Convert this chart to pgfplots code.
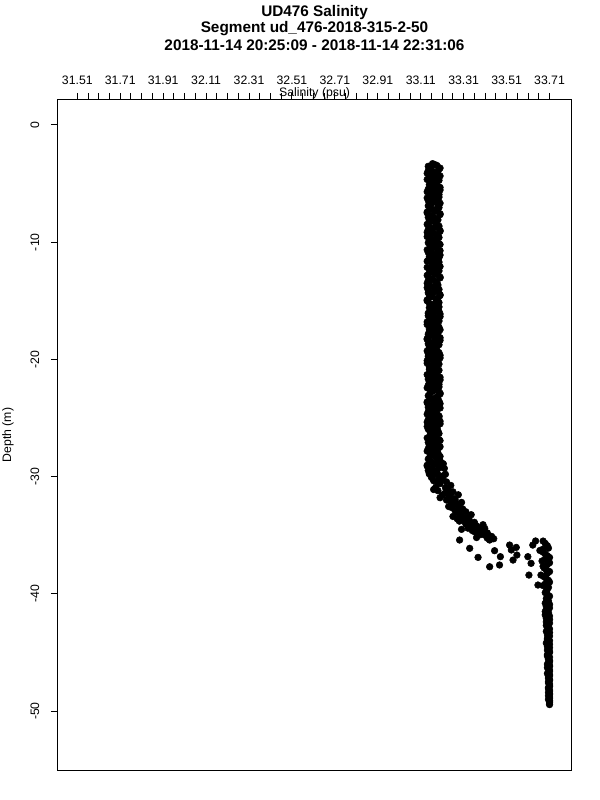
\documentclass[border=0pt]{standalone}
\usepackage{fontspec}
\setmainfont{Liberation Sans}
\usepackage{pgfplots}
\pgfplotsset{compat=1.18}
\begin{document}
\begin{tikzpicture}[x=1pt,y=1pt]
\path[use as bounding box] (-43.5,-22.5) rectangle (406.5,577.5);
\begin{axis}[
  at={(0,0)}, anchor=south west,
  scale only axis, width=384.75pt, height=502.5pt,
  xmin=31.42, xmax=33.81, ymin=-55.03, ymax=2.13,
  axis line style={line width=0.75pt},
  every tick/.append style={line width=0.75pt, black},
  major tick length=5.25pt, minor tick length=5.25pt,
  xtick={31.51,31.71,31.91,32.11,32.31,32.51,32.71,32.91,33.11,33.31,33.51,33.71},
  xticklabels={31.51,31.71,31.91,32.11,32.31,32.51,32.71,32.91,33.11,33.31,33.51,33.71},
  minor x tick num=3,
  xtick pos=right, xticklabel pos=right,
  xtick align=inside,
  every x tick/.append style={yshift=5.25pt},
  xticklabel style={font=\fontsize{9.2}{10}\selectfont, anchor=center, yshift=14.9pt},
  ytick={-50,-40,-30,-20,-10,0},
  yticklabels={-50,-40,-30,-20,-10,0},
  ytick pos=left, ytick align=inside,
  every y tick/.append style={xshift=-5.25pt},
  yticklabel style={font=\fontsize{9.2}{10}\selectfont, xshift=-17.25pt, rotate=90, anchor=center},
  /pgf/number format/assume math mode=true,
  clip=false,
]
\addplot[only marks, mark=*, mark size=2.5pt, black] coordinates {
(33.165,-3.30) (33.185,-3.45) (33.150,-3.60) (33.195,-3.75) (33.145,-3.90) (33.180,-4.05) (33.155,-4.20) (33.200,-4.35) (33.170,-4.50) (33.140,-4.65) (33.185,-4.80) (33.160,-4.95)
(33.150,-5.10) (33.190,-5.25) (33.165,-5.40) (33.200,-5.55) (33.140,-5.70) (33.180,-5.85) (33.155,-6.00) (33.195,-6.15) (33.170,-6.30) (33.145,-6.45) (33.185,-6.60) (33.160,-6.75)
(33.145,-6.90) (33.195,-7.05) (33.160,-7.20) (33.185,-7.35) (33.140,-7.50) (33.200,-7.65) (33.150,-7.80) (33.175,-7.95) (33.190,-8.10) (33.155,-8.25) (33.180,-8.40) (33.145,-8.55)
(33.190,-8.70) (33.160,-8.85) (33.200,-9.00) (33.140,-9.15) (33.175,-9.30) (33.150,-9.45) (33.195,-9.60) (33.165,-9.75) (33.185,-9.90) (33.145,-10.05) (33.200,-10.20) (33.155,-10.35)
(33.180,-10.50) (33.140,-10.65) (33.190,-10.80) (33.160,-10.95) (33.200,-11.10) (33.150,-11.25) (33.175,-11.40) (33.145,-11.55) (33.195,-11.70) (33.165,-11.85) (33.185,-12.00) (33.140,-12.15)
(33.170,-12.30) (33.195,-12.45) (33.150,-12.60) (33.185,-12.75) (33.145,-12.90) (33.200,-13.05) (33.160,-13.20) (33.180,-13.35) (33.140,-13.50) (33.190,-13.65) (33.155,-13.80) (33.175,-13.95)
(33.145,-14.10) (33.190,-14.25) (33.165,-14.40) (33.200,-14.55) (33.150,-14.70) (33.180,-14.85) (33.140,-15.00) (33.195,-15.15) (33.160,-15.30) (33.185,-15.45) (33.150,-15.60) (33.175,-15.75)
(33.195,-15.90) (33.145,-16.05) (33.170,-16.20) (33.200,-16.35) (33.155,-16.50) (33.185,-16.65) (33.140,-16.80) (33.180,-16.95) (33.160,-17.10) (33.195,-17.25) (33.150,-17.40) (33.175,-17.55)
(33.190,-17.70) (33.145,-17.85) (33.165,-18.00) (33.200,-18.15) (33.140,-18.30) (33.180,-18.45) (33.155,-18.60) (33.195,-18.75) (33.170,-18.90) (33.150,-19.05) (33.185,-19.20) (33.160,-19.35)
(33.145,-19.50) (33.200,-19.65) (33.160,-19.80) (33.185,-19.95) (33.140,-20.10) (33.175,-20.25) (33.195,-20.40) (33.155,-20.55) (33.180,-20.70) (33.150,-20.85) (33.190,-21.00) (33.165,-21.15)
(33.140,-21.30) (33.185,-21.45) (33.160,-21.60) (33.200,-21.75) (33.150,-21.90) (33.175,-22.05) (33.145,-22.20) (33.195,-22.35) (33.165,-22.50) (33.185,-22.65) (33.155,-22.80) (33.200,-22.95)
(33.145,-23.10) (33.180,-23.25) (33.160,-23.40) (33.195,-23.55) (33.140,-23.70) (33.190,-23.85) (33.155,-24.00) (33.200,-24.15) (33.170,-24.30) (33.145,-24.45) (33.185,-24.60) (33.160,-24.75)
(33.195,-24.90) (33.150,-25.05) (33.175,-25.20) (33.140,-25.35) (33.200,-25.50) (33.165,-25.65) (33.185,-25.80) (33.145,-25.95) (33.190,-26.10) (33.155,-26.25) (33.180,-26.40) (33.160,-26.55)
(33.140,-26.70) (33.195,-26.85) (33.165,-27.00) (33.185,-27.15) (33.150,-27.30) (33.200,-27.45) (33.145,-27.60) (33.175,-27.75) (33.160,-27.90) (33.190,-28.05) (33.155,-28.20) (33.180,-28.35)
(33.145,-28.50) (33.200,-28.65) (33.160,-28.80) (33.185,-28.95) (33.140,-29.10) (33.195,-29.25) (33.155,-29.40) (33.175,-29.55) (33.150,-29.70) (33.190,-29.85) (33.165,-30.00) (33.205,-30.15)
(33.175,-3.375) (33.145,-3.525) (33.200,-3.675) (33.160,-3.825) (33.190,-3.975) (33.140,-4.125) (33.185,-4.275) (33.150,-4.425) (33.170,-4.575) (33.195,-4.725) (33.155,-4.875) (33.180,-5.025)
(33.160,-5.175) (33.200,-5.325) (33.145,-5.475) (33.180,-5.625) (33.155,-5.775) (33.195,-5.925) (33.170,-6.075) (33.140,-6.225) (33.190,-6.375) (33.165,-6.525) (33.200,-6.675) (33.150,-6.825)
(33.190,-6.975) (33.155,-7.125) (33.175,-7.275) (33.140,-7.425) (33.200,-7.575) (33.165,-7.725) (33.145,-7.875) (33.185,-8.025) (33.150,-8.175) (33.180,-8.325) (33.140,-8.475) (33.195,-8.625)
(33.175,-8.775) (33.145,-8.925) (33.200,-9.075) (33.160,-9.225) (33.190,-9.375) (33.140,-9.525) (33.185,-9.675) (33.150,-9.825) (33.170,-9.975) (33.195,-10.125) (33.155,-10.275) (33.180,-10.425)
(33.160,-10.575) (33.200,-10.725) (33.145,-10.875) (33.180,-11.025) (33.155,-11.175) (33.195,-11.325) (33.170,-11.475) (33.140,-11.625) (33.190,-11.775) (33.165,-11.925) (33.200,-12.075) (33.150,-12.225)
(33.190,-12.375) (33.155,-12.525) (33.175,-12.675) (33.140,-12.825) (33.200,-12.975) (33.165,-13.125) (33.145,-13.275) (33.185,-13.425) (33.150,-13.575) (33.180,-13.725) (33.140,-13.875) (33.195,-14.025)
(33.175,-14.175) (33.145,-14.325) (33.200,-14.475) (33.160,-14.625) (33.190,-14.775) (33.140,-14.925) (33.185,-15.075) (33.150,-15.225) (33.170,-15.375) (33.195,-15.525) (33.155,-15.675) (33.180,-15.825)
(33.160,-15.975) (33.200,-16.125) (33.145,-16.275) (33.180,-16.425) (33.155,-16.575) (33.195,-16.725) (33.170,-16.875) (33.140,-17.025) (33.190,-17.175) (33.165,-17.325) (33.200,-17.475) (33.150,-17.625)
(33.190,-17.775) (33.155,-17.925) (33.175,-18.075) (33.140,-18.225) (33.200,-18.375) (33.165,-18.525) (33.145,-18.675) (33.185,-18.825) (33.150,-18.975) (33.180,-19.125) (33.140,-19.275) (33.195,-19.425)
(33.175,-19.575) (33.145,-19.725) (33.200,-19.875) (33.160,-20.025) (33.190,-20.175) (33.140,-20.325) (33.185,-20.475) (33.150,-20.625) (33.170,-20.775) (33.195,-20.925) (33.155,-21.075) (33.180,-21.225)
(33.160,-21.375) (33.200,-21.525) (33.145,-21.675) (33.180,-21.825) (33.155,-21.975) (33.195,-22.125) (33.170,-22.275) (33.140,-22.425) (33.190,-22.575) (33.165,-22.725) (33.200,-22.875) (33.150,-23.025)
(33.190,-23.175) (33.155,-23.325) (33.175,-23.475) (33.140,-23.625) (33.200,-23.775) (33.165,-23.925) (33.145,-24.075) (33.185,-24.225) (33.150,-24.375) (33.180,-24.525) (33.140,-24.675) (33.195,-24.825)
(33.175,-24.975) (33.145,-25.125) (33.200,-25.275) (33.160,-25.425) (33.190,-25.575) (33.140,-25.725) (33.185,-25.875) (33.150,-26.025) (33.170,-26.175) (33.195,-26.325) (33.155,-26.475) (33.180,-26.625)
(33.160,-26.775) (33.200,-26.925) (33.145,-27.075) (33.180,-27.225) (33.155,-27.375) (33.195,-27.525) (33.170,-27.675) (33.140,-27.825) (33.190,-27.975) (33.165,-28.125) (33.200,-28.275) (33.150,-28.425)
(33.190,-28.575) (33.155,-28.725) (33.175,-28.875) (33.140,-29.025) (33.205,-29.175) (33.165,-29.325) (33.145,-29.475) (33.185,-29.625) (33.150,-29.775) (33.215,-29.925) (33.160,-30.075) (33.195,-30.225)
(33.215,-28.90) (33.220,-29.30) (33.225,-29.80) (33.210,-30.10)
(33.170,-30.35) (33.230,-30.45) (33.200,-30.60) (33.250,-30.75) (33.180,-30.90) (33.235,-31.05)
(33.190,-31.20) (33.260,-31.30) (33.220,-31.45) (33.285,-31.55) (33.245,-31.70) (33.200,-31.80) (33.270,-31.95)
(33.250,-32.10) (33.300,-32.20) (33.265,-32.35) (33.285,-32.50) (33.255,-32.65) (33.305,-32.75)
(33.270,-32.90) (33.320,-33.00) (33.290,-33.15) (33.345,-33.25) (33.260,-33.40) (33.310,-33.50) (33.335,-33.65)
(33.290,-33.80) (33.360,-33.90) (33.320,-34.05) (33.400,-34.10) (33.345,-34.25) (33.380,-34.40) (33.300,-34.50)
(33.360,-34.70) (33.420,-34.80) (33.390,-34.95) (33.440,-35.10) (33.370,-35.20) (33.430,-35.35)
(33.210,-30.25) (33.190,-30.55) (33.225,-30.95) (33.170,-31.10) (33.240,-31.35) (33.210,-31.60) (33.260,-31.85) (33.230,-32.00) (33.280,-32.30) (33.240,-32.55) (33.290,-32.70)
(33.280,-33.05) (33.300,-33.30) (33.330,-33.45) (33.280,-33.60) (33.310,-33.75) (33.340,-34.00) (33.370,-34.20) (33.330,-34.40) (33.350,-34.60) (33.400,-34.55) (33.380,-34.85) (33.410,-35.00) (33.420,-35.25) (33.450,-35.30)
(33.291,-35.41) (33.338,-36.12) (33.377,-36.89) (33.431,-37.69) (33.477,-37.54) (33.481,-36.83) (33.454,-36.32) (33.431,-35.41) (33.408,-34.41)
(33.524,-35.84) (33.555,-36.04) (33.532,-36.26) (33.540,-37.12) (33.558,-36.69)
(33.645,-35.49) (33.632,-35.84) (33.609,-36.83) (33.624,-37.40) (33.614,-38.40) (33.656,-39.25) (33.679,-36.20)
(33.680,-35.50) (33.700,-35.90) (33.665,-36.30) (33.690,-36.60) (33.710,-36.90) (33.675,-37.20) (33.700,-37.50) (33.685,-37.80) (33.710,-38.10) (33.670,-38.40) (33.695,-38.70) (33.710,-39.00) (33.680,-39.30) (33.700,-39.60) (33.690,-39.90) (33.710,-40.20)
(33.690,-35.70) (33.705,-36.10) (33.680,-36.45) (33.700,-36.75) (33.690,-37.05) (33.710,-37.35) (33.680,-37.65) (33.695,-37.95) (33.700,-38.25) (33.685,-38.55) (33.705,-38.85) (33.690,-39.15) (33.705,-39.45) (33.695,-39.75) (33.700,-40.05)
(33.695,-40.40) (33.705,-40.60) (33.690,-40.80) (33.705,-41.00) (33.710,-41.20) (33.695,-41.40) (33.705,-41.60) (33.690,-41.80) (33.705,-42.00) (33.710,-42.20) (33.695,-42.40) (33.705,-42.60)
(33.700,-42.80) (33.710,-43.00) (33.695,-43.20) (33.705,-43.40) (33.710,-43.60) (33.700,-43.80) (33.710,-44.00) (33.695,-44.20) (33.705,-44.40) (33.710,-44.60) (33.700,-44.80) (33.710,-45.00)
(33.700,-45.20) (33.710,-45.40) (33.705,-45.60) (33.710,-45.80) (33.700,-46.00) (33.710,-46.20) (33.705,-46.40) (33.710,-46.60) (33.700,-46.80) (33.710,-47.00) (33.705,-47.20) (33.710,-47.40)
(33.705,-47.60) (33.710,-47.80) (33.705,-48.00) (33.710,-48.20) (33.705,-48.40) (33.710,-48.60) (33.710,-48.80) (33.705,-49.00) (33.710,-49.20) (33.710,-49.45)
(33.700,-40.50) (33.695,-40.70) (33.710,-40.90) (33.695,-41.10) (33.700,-41.30) (33.690,-41.50) (33.700,-41.70) (33.710,-41.90) (33.695,-42.10) (33.700,-42.30) (33.710,-42.50) (33.695,-42.70)
(33.705,-42.90) (33.700,-43.10) (33.710,-43.30) (33.700,-43.50) (33.705,-43.70) (33.700,-43.90) (33.705,-44.10) (33.710,-44.30) (33.700,-44.50) (33.705,-44.70) (33.710,-44.90) (33.705,-45.10)
(33.700,-45.30) (33.705,-45.50) (33.710,-45.70) (33.705,-45.90) (33.710,-46.10) (33.700,-46.30) (33.710,-46.50) (33.705,-46.70) (33.710,-46.90) (33.705,-47.10) (33.710,-47.30) (33.705,-47.50)
(33.710,-47.70) (33.710,-47.90) (33.705,-48.10) (33.710,-48.30) (33.710,-48.50) (33.705,-48.70) (33.710,-48.90) (33.710,-49.10) (33.710,-49.30)
};
\end{axis}
\node[font=\bfseries\fontsize{11.5}{13}\selectfont] at (192.4,568.1) {UD476 Salinity};
\node[font=\bfseries\fontsize{11.5}{13}\selectfont] at (192.4,555.9) {Segment ud\_476-2018-315-2-50};
\node[font=\bfseries\fontsize{11.5}{13}\selectfont] at (192.4,543.9) {2018-11-14 20:25:09 - 2018-11-14 22:31:06};
\node[font=\fontsize{9.2}{10}\selectfont, inner sep=0pt] at (192.4,507.6) {Salinity (psu)};
\node[font=\fontsize{9.2}{10}\selectfont, rotate=90] at (-37.5,251.25) {Depth (m)};
\end{tikzpicture}
\end{document}
